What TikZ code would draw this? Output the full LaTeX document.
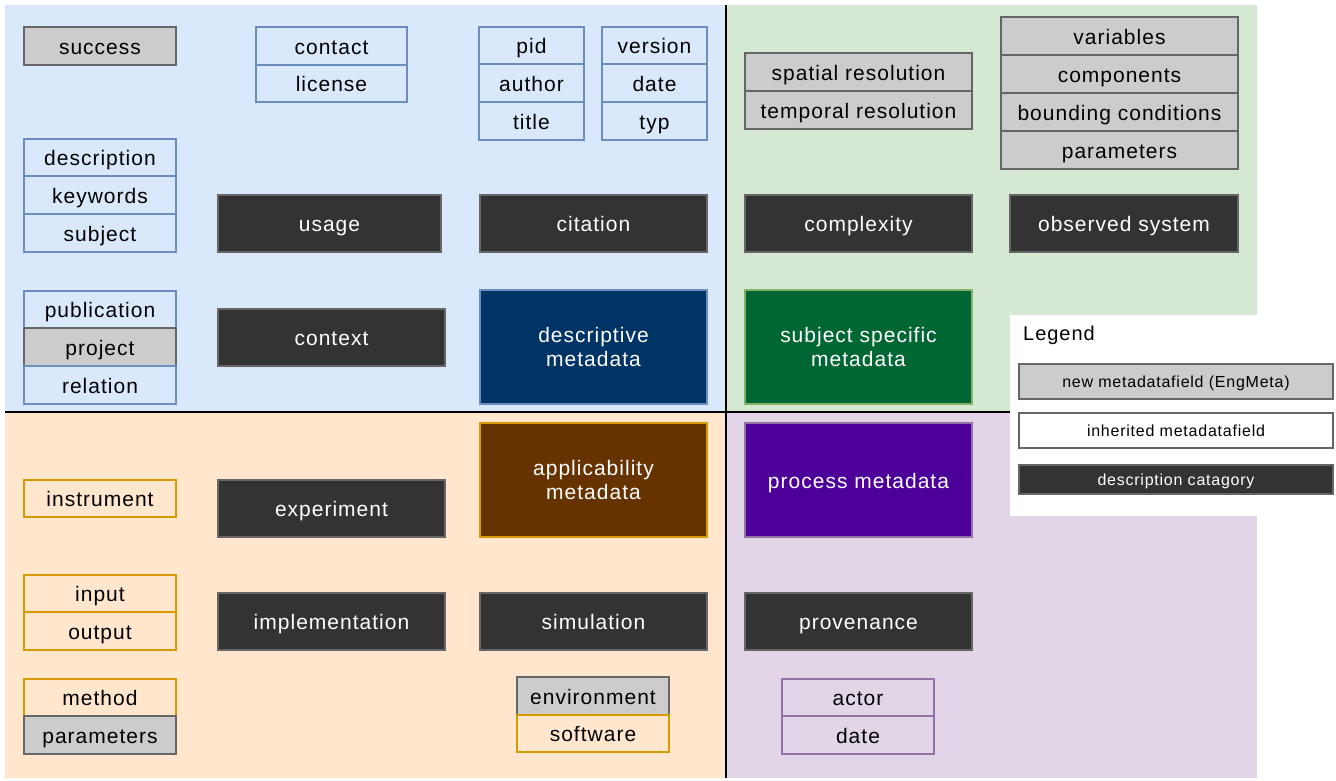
\documentclass[tikz,border=0pt]{standalone}
\usepackage{fontspec}
\setmainfont{Liberation Sans}[LetterSpace=4.8]
\definecolor{bluebg}{HTML}{DAE8FC}
\definecolor{bluebd}{HTML}{6C8EBF}
\definecolor{greenbg}{HTML}{D5E8D4}
\definecolor{greenbd}{HTML}{82B366}
\definecolor{orangebg}{HTML}{FFE6CC}
\definecolor{orangebd}{HTML}{D79B00}
\definecolor{purplebg}{HTML}{E1D5E7}
\definecolor{purplebd}{HTML}{9673A6}
\definecolor{newfill}{HTML}{CCCCCC}
\definecolor{newbd}{HTML}{666666}
\definecolor{darkfill}{HTML}{333333}
\definecolor{descfill}{HTML}{003366}
\definecolor{subjfill}{HTML}{006633}
\definecolor{applfill}{HTML}{663300}
\definecolor{procfill}{HTML}{4C0099}
\tikzset{
  base/.style={rectangle, inner sep=0pt, outer sep=0pt, line width=1.3pt, align=center,
    font=\fontsize{21}{24}\selectfont, text=black},
  one/.style={text height=20pt, text depth=4pt},
  newf/.style={base, one, fill=newfill, draw=newbd},
  bluef/.style={base, one, fill=bluebg, draw=bluebd},
  orangef/.style={base, one, fill=orangebg, draw=orangebd},
  purplef/.style={base, one, fill=purplebg, draw=purplebd},
  cat/.style={base, one, fill=darkfill, draw=newbd, text=white},
  desc/.style={base, fill=descfill, draw=bluebd, text=white},
  subj/.style={base, fill=subjfill, draw=greenbd, text=white},
  appl/.style={base, fill=applfill, draw=orangebd, text=white},
  proc/.style={base, one, fill=procfill, draw=purplebd, text=white},
  legf/.style={font=\fontsize{16}{19}\selectfont, text height=15pt, text depth=3pt},
}
\newcommand\mybox[7]{%
  \node[#1, minimum width={(#5-#3)*1pt}, minimum height={(#6-#4)*1pt}] (#2)
    at ({(#3+#5)/2},{-(#4+#6)/2}) {#7};}
\begin{document}
\begin{tikzpicture}[x=1pt,y=1pt]
\useasboundingbox (0,0) rectangle (1336,-780);
% quadrants
\fill[bluebg] (5,-5) rectangle (726,-412);
\fill[greenbg] (726,-5) rectangle (1257,-412);
\fill[orangebg] (5,-412) rectangle (726,-778);
\fill[purplebg] (726,-412) rectangle (1257,-778);
\draw[line width=1.5pt] (726,-5) -- (726,-778);
\draw[line width=1.5pt] (5,-412) -- (1257,-412);
% blue quadrant
\mybox{newf}{success}{24}{27}{176}{65}{success}
\mybox{bluef}{contact}{256}{27}{407}{65}{contact}
\mybox{bluef}{license}{256}{65}{407}{102}{license}
\mybox{bluef}{pid}{479}{27}{584}{64}{pid}
\mybox{bluef}{author}{479}{64}{584}{102}{author}
\mybox{bluef}{title}{479}{102}{584}{140}{title}
\mybox{bluef}{version}{602}{27}{707}{64}{version}
\mybox{bluef}{date1}{602}{64}{707}{102}{date}
\mybox{bluef}{typ}{602}{102}{707}{140}{typ}
\mybox{bluef}{description}{24}{139}{176}{176}{description}
\mybox{bluef}{keywords}{24}{176}{176}{214}{keywords}
\mybox{bluef}{subject}{24}{214}{176}{252}{subject}
\mybox{cat}{usage}{218}{195}{441}{252}{usage}
\mybox{cat}{citation}{480}{195}{707}{252}{citation}
\mybox{bluef}{publication}{24}{291}{176}{328}{publication}
\mybox{newf}{project}{24}{328}{176}{366}{project}
\mybox{bluef}{relation}{24}{366}{176}{404}{relation}
\mybox{cat}{context}{218}{309}{445}{366}{context}
\mybox{desc}{descriptive}{480}{290}{707}{404}{descriptive\\metadata}
% green quadrant
\mybox{newf}{spatial}{745}{53}{972}{91}{spatial resolution}
\mybox{newf}{temporal}{745}{91}{972}{129}{temporal resolution}
\mybox{newf}{variables}{1001}{17}{1238}{55}{variables}
\mybox{newf}{components}{1001}{55}{1238}{93}{components}
\mybox{newf}{bounding}{1001}{93}{1238}{131}{bounding conditions}
\mybox{newf}{parameters1}{1001}{131}{1238}{169}{parameters}
\mybox{cat}{complexity}{745}{195}{972}{252}{complexity}
\mybox{cat}{observed}{1010}{195}{1238}{252}{observed system}
\mybox{subj}{subjectspecific}{745}{290}{972}{404}{subject specific\\metadata}
% orange quadrant
\mybox{orangef}{instrument}{24}{480}{176}{517}{instrument}
\mybox{cat}{experiment}{218}{480}{445}{537}{experiment}
\mybox{appl}{applicability}{480}{423}{707}{537}{applicability\\metadata}
\mybox{orangef}{input}{24}{575}{176}{612}{input}
\mybox{orangef}{output}{24}{612}{176}{650}{output}
\mybox{cat}{implementation}{218}{593}{445}{650}{implementation}
\mybox{cat}{simulation}{480}{593}{707}{650}{simulation}
\mybox{orangef}{method}{24}{679}{176}{716}{method}
\mybox{newf}{parameters2}{24}{716}{176}{754}{parameters}
\mybox{newf}{environment}{517}{677}{669}{715}{environment}
\mybox{orangef}{software}{517}{715}{669}{752}{software}
% purple quadrant
\mybox{proc}{process}{745}{423}{972}{537}{process metadata}
\mybox{cat}{provenance}{745}{593}{972}{650}{provenance}
\mybox{purplef}{actor}{782}{679}{934}{716}{actor}
\mybox{purplef}{date2}{782}{716}{934}{754}{date}
% legend
\fill[white] (1010,-315) rectangle (1336,-516);
\node[anchor=west, font=\fontsize{20}{24}\selectfont, inner sep=0pt] (legend) at (1023,-335) {Legend};
\mybox{newf,legf}{legnew}{1019}{364}{1333}{399}{new metadatafield (EngMeta)}
\mybox{base,legf,fill=white,draw=newbd}{leginh}{1019}{413}{1333}{448}{inherited metadatafield}
\mybox{cat,legf}{legcat}{1019}{465}{1333}{494}{description catagory}
\end{tikzpicture}
\end{document}
